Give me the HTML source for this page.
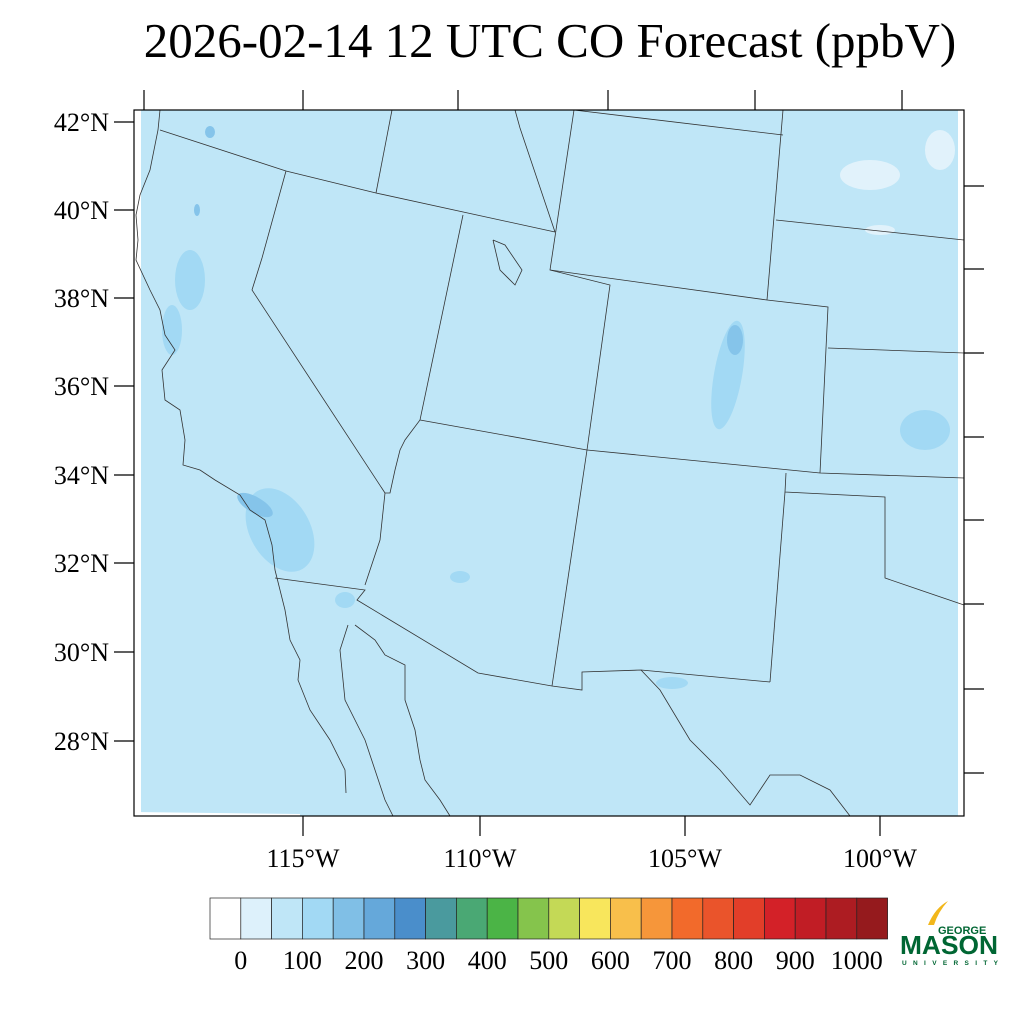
<!DOCTYPE html>
<html><head><meta charset="utf-8"><style>
body{margin:0;background:#fff;}
svg{display:block;font-family:"Liberation Serif",serif;}
</style></head><body>
<svg width="1024" height="1024" viewBox="0 0 1024 1024">
<text x="550" y="57" font-size="49" text-anchor="middle">2026-02-14 12 UTC CO Forecast (ppbV)</text>
<rect x="134" y="110" width="830" height="706" fill="#bfe6f7"/>
<rect x="134" y="110" width="7" height="706" fill="#fff"/>
<rect x="958" y="110" width="6" height="706" fill="#fff"/>
<polygon points="134,812 300,814 300,816 134,816" fill="#fff"/>
<g fill="#a2d9f4">
<ellipse cx="190" cy="280" rx="15" ry="30"/><ellipse cx="172" cy="330" rx="10" ry="25"/>
<ellipse cx="280" cy="530" rx="30" ry="45" transform="rotate(-30 280 530)"/>
<ellipse cx="728" cy="375" rx="14" ry="55" transform="rotate(10 728 375)"/>
<ellipse cx="925" cy="430" rx="25" ry="20"/><ellipse cx="345" cy="600" rx="10" ry="8"/>
<ellipse cx="460" cy="577" rx="10" ry="6"/><ellipse cx="672" cy="683" rx="16" ry="6"/>
</g>
<g fill="#85c4ea"><ellipse cx="255" cy="505" rx="20" ry="8" transform="rotate(30 255 505)"/><ellipse cx="735" cy="340" rx="8" ry="15"/><ellipse cx="210" cy="132" rx="5" ry="6"/><ellipse cx="197" cy="210" rx="3" ry="6"/></g>
<g fill="#e1f2fb"><ellipse cx="870" cy="175" rx="30" ry="15"/><ellipse cx="940" cy="150" rx="15" ry="20"/><ellipse cx="880" cy="230" rx="15" ry="5"/></g>
<g fill="none" stroke="#333" stroke-width="0.8">
<polyline points="160,110 158,130 150,170 140,195 136,215 138,240 136,260 150,290 160,310 165,335 175,350 162,370 165,400 180,410 185,440 183,465 200,470 215,480 240,495 250,510 265,520 272,545 275,570 280,590 285,610 290,640 300,660 298,680 310,710 330,740 345,770 346,793"/>
<polyline points="348,625 340,650 345,700 365,740 375,770 385,800 393,816"/>
<polyline points="355,625 375,640 385,655 405,665 405,700 415,730 420,760 425,780 440,800 450,816"/>
<polyline points="160,130 286,171 376,193 555,232"/>
<polyline points="392,110 376,193"/>
<polyline points="286,171 262,258 252,290 385,493"/>
<polyline points="463,215 420,420 405,440 400,450 395,470 390,493 385,493 380,540 365,585"/>
<polyline points="574,110 550,270 610,285 587,450 552,686"/>
<polyline points="275,578 365,590 357,600 478,673 552,686 582,690 582,672 641,670 770,682"/>
<polyline points="641,670 660,690 690,740 720,770 750,805 770,775 800,775 830,790 850,816"/>
<polyline points="574,110 783,135"/><polyline points="783,110 767,300"/>
<polyline points="550,270 767,300 828,307 820,473"/>
<polyline points="776,220 964,240"/><polyline points="828,348 964,353"/>
<polyline points="420,420 587,450 820,473 964,478"/>
<polyline points="786,473 785,492 885,497 885,578 920,590 964,605"/>
<polyline points="785,492 770,682"/>
<polyline points="515,110 520,128 555,232"/>
<polyline points="493,240 500,270 515,285 522,270 505,245 493,240"/>
</g>
<rect x="134" y="110" width="830" height="706" fill="none" stroke="#000" stroke-width="1.2"/>
<g stroke="#000" stroke-width="1.2">
<line x1="144" y1="110" x2="144" y2="90"/><line x1="303" y1="110" x2="303" y2="90"/><line x1="458" y1="110" x2="458" y2="90"/><line x1="608" y1="110" x2="608" y2="90"/><line x1="755" y1="110" x2="755" y2="90"/><line x1="902" y1="110" x2="902" y2="90"/>
<line x1="114" y1="122" x2="134" y2="122"/><line x1="114" y1="210" x2="134" y2="210"/><line x1="114" y1="298" x2="134" y2="298"/><line x1="114" y1="386" x2="134" y2="386"/><line x1="114" y1="475" x2="134" y2="475"/><line x1="114" y1="563" x2="134" y2="563"/><line x1="114" y1="652" x2="134" y2="652"/><line x1="114" y1="741" x2="134" y2="741"/>
<line x1="964" y1="186" x2="984" y2="186"/><line x1="964" y1="269" x2="984" y2="269"/><line x1="964" y1="353" x2="984" y2="353"/><line x1="964" y1="437" x2="984" y2="437"/><line x1="964" y1="520" x2="984" y2="520"/><line x1="964" y1="604" x2="984" y2="604"/><line x1="964" y1="689" x2="984" y2="689"/><line x1="964" y1="773" x2="984" y2="773"/>
<line x1="303" y1="816" x2="303" y2="836"/><line x1="480" y1="816" x2="480" y2="836"/><line x1="685" y1="816" x2="685" y2="836"/><line x1="880" y1="816" x2="880" y2="836"/>
</g>
<g font-size="26" text-anchor="end">
<text x="109" y="131">42°N</text><text x="109" y="219">40°N</text><text x="109" y="307">38°N</text><text x="109" y="395">36°N</text><text x="109" y="484">34°N</text><text x="109" y="572">32°N</text><text x="109" y="661">30°N</text><text x="109" y="750">28°N</text>
</g>
<g font-size="26" text-anchor="middle">
<text x="303" y="867">115°W</text><text x="480" y="867">110°W</text><text x="685" y="867">105°W</text><text x="880" y="867">100°W</text>
</g>
<g stroke="#222" stroke-width="0.7">
<rect x="210" y="898" width="30.8" height="41" fill="#ffffff"/>
<rect x="240.8" y="898" width="30.8" height="41" fill="#ddf1fb"/>
<rect x="271.6" y="898" width="30.8" height="41" fill="#bfe6f7"/>
<rect x="302.4" y="898" width="30.8" height="41" fill="#a2d9f4"/>
<rect x="333.2" y="898" width="30.8" height="41" fill="#80bfe6"/>
<rect x="364" y="898" width="30.8" height="41" fill="#65a8da"/>
<rect x="394.8" y="898" width="30.8" height="41" fill="#4a8ecb"/>
<rect x="425.6" y="898" width="30.8" height="41" fill="#4a9a9e"/>
<rect x="456.4" y="898" width="30.8" height="41" fill="#4aa874"/>
<rect x="487.2" y="898" width="30.8" height="41" fill="#4bb446"/>
<rect x="518" y="898" width="30.8" height="41" fill="#85c44c"/>
<rect x="548.8" y="898" width="30.8" height="41" fill="#c4d956"/>
<rect x="579.6" y="898" width="30.8" height="41" fill="#f8e65c"/>
<rect x="610.4" y="898" width="30.8" height="41" fill="#f8bf4b"/>
<rect x="641.2" y="898" width="30.8" height="41" fill="#f6963a"/>
<rect x="672" y="898" width="30.8" height="41" fill="#f26a2b"/>
<rect x="702.8" y="898" width="30.8" height="41" fill="#ea542b"/>
<rect x="733.6" y="898" width="30.8" height="41" fill="#e23e29"/>
<rect x="764.4" y="898" width="30.8" height="41" fill="#d32128"/>
<rect x="795.2" y="898" width="30.8" height="41" fill="#c11d25"/>
<rect x="826" y="898" width="30.8" height="41" fill="#ad1c22"/>
<rect x="856.8" y="898" width="30.8" height="41" fill="#951a1d"/>
</g>
<g font-size="26" text-anchor="middle">
<text x="240.8" y="969">0</text><text x="302.4" y="969">100</text><text x="364" y="969">200</text><text x="425.6" y="969">300</text><text x="487.2" y="969">400</text><text x="548.8" y="969">500</text><text x="610.4" y="969">600</text><text x="672" y="969">700</text><text x="733.6" y="969">800</text><text x="795.2" y="969">900</text><text x="856.8" y="969">1000</text>
</g>
<path d="M928,925 Q935,908 948,901 Q938,912 934,925 Z" fill="#f2b71b"/>
<g fill="#006633" font-family="Liberation Sans,sans-serif" font-weight="bold">
<text x="938" y="934" font-size="11">GEORGE</text>
<text x="900" y="954" font-size="26" textLength="98" lengthAdjust="spacingAndGlyphs">MASON</text>
<text x="902" y="965" font-size="6.5" textLength="96" lengthAdjust="spacing">UNIVERSITY</text>
</g>
</svg>
</body></html>
